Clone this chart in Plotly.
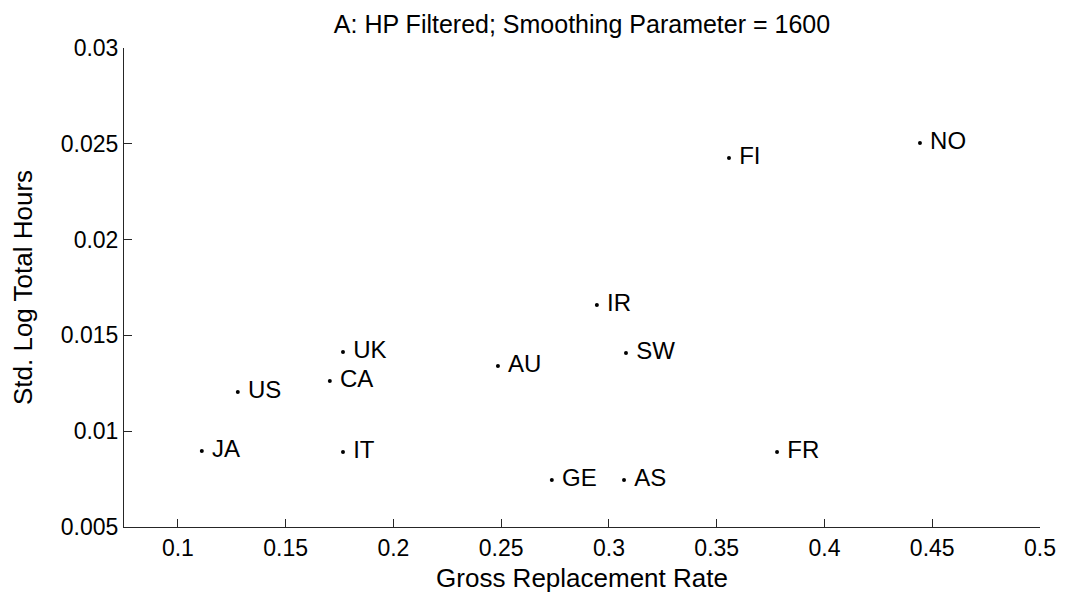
import plotly.graph_objects as go

countries = ["NO", "FI", "IR", "SW", "UK", "AU", "CA", "US", "JA", "IT", "FR", "GE", "AS"]
replacement_rate = [0.4443, 0.3557, 0.2944, 0.3079, 0.1766, 0.2485, 0.1705, 0.1278, 0.1111, 0.1766, 0.3780, 0.2735, 0.3070]
std_log_hours = [0.02504, 0.02426, 0.01659, 0.01408, 0.01413, 0.01340, 0.01262, 0.01205, 0.00897, 0.00891, 0.00891, 0.00745, 0.00745]

x_ticks = [0.1, 0.15, 0.2, 0.25, 0.3, 0.35, 0.4, 0.45, 0.5]
x_ticktext = ["0.1", "0.15", "0.2", "0.25", "0.3", "0.35", "0.4", "0.45", "0.5"]
y_ticks = [0.005, 0.01, 0.015, 0.02, 0.025, 0.03]
y_ticktext = ["0.005", "0.01", "0.015", "0.02", "0.025", "0.03"]

font = "Liberation Sans, Arial, sans-serif"
TICK = 23
LABEL = 24
TITLE = 26
MAIN_TITLE = 25

fig = go.Figure()
fig.add_trace(go.Scatter(
    x=replacement_rate, y=std_log_hours,
    mode="markers+text",
    text=["\u00a0" + c for c in countries],
    textposition="middle right",
    textfont=dict(family=font, size=LABEL, color="black"),
    marker=dict(size=4, color="black"),
    hoverinfo="skip",
    cliponaxis=False,
))

axis_common = dict(
    showgrid=False, zeroline=False, showline=True, linecolor="#262626", linewidth=1,
    ticks="inside", ticklen=8, tickcolor="#262626", tickwidth=1,
    tickfont=dict(family=font, size=TICK, color="black"), mirror=False,
)

fig.update_layout(
    width=1049, height=586,
    margin=dict(l=116, r=17, t=40, b=67, autoexpand=False),
    paper_bgcolor="white", plot_bgcolor="white",
    showlegend=False,
    title=dict(text="A: HP Filtered; Smoothing Parameter = 1600", x=0.5, xref="paper", xanchor="center",
               y=1 - 16 / 586, yref="container", yanchor="middle", pad=dict(t=0, b=0),
               font=dict(family=font, size=MAIN_TITLE, color="black")),
    xaxis=dict(range=[0.075, 0.5], tickvals=x_ticks, ticktext=x_ticktext,
               title=dict(text="Gross Replacement Rate", font=dict(family=font, size=TITLE, color="black"), standoff=9),
               **axis_common),
    yaxis=dict(range=[0.005, 0.03], tickvals=y_ticks, ticktext=y_ticktext,
               title=dict(text="Std. Log Total Hours", font=dict(family=font, size=TITLE, color="black"), standoff=20),
               **axis_common),
)

fig.write_html("out.html")
